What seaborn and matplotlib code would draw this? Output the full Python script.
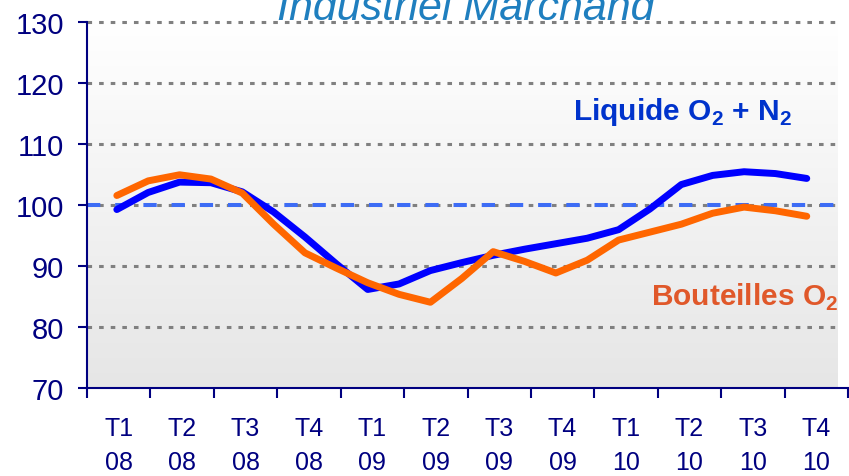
import numpy as np
import pandas as pd
import matplotlib
matplotlib.use("Agg")
import matplotlib.pyplot as plt
import seaborn as sns
from matplotlib.colors import LinearSegmentedColormap

# quarter labels (category axis)
trimestres = ["T1\n08", "T2\n08", "T3\n08", "T4\n08",
              "T1\n09", "T2\n09", "T3\n09", "T4\n09",
              "T1\n10", "T2\n10", "T3\n10", "T4\n10"]

# sampling of the curves, in quarter units (about two points per quarter)
temps = np.linspace(0.47, 11.35, 23)

liquide = [99.3, 102.1, 103.8, 103.7, 102.2, 98.9, 94.8, 90.4, 86.2, 87.1, 89.3, 90.6,
           91.8, 92.8, 93.7, 94.6, 96.0, 99.4, 103.4, 104.9, 105.5, 105.2, 104.4]
bouteilles = [101.6, 104.0, 105.0, 104.3, 102.0, 96.9, 92.2, 89.7, 87.3, 85.4, 84.1, 88.0,
              92.4, 90.8, 88.9, 91.0, 94.3, 95.6, 96.9, 98.7, 99.7, 99.1, 98.2]

y_ticks = [70, 80, 90, 100, 110, 120, 130]
reference = 100

NAVY = "#000080"

sns.set_style("white")
plt.rcParams["font.family"] = ["Liberation Sans", "DejaVu Sans"]
plt.rcParams["mathtext.fontset"] = "custom"
plt.rcParams["mathtext.rm"] = "Liberation Sans"
plt.rcParams["mathtext.bf"] = "Liberation Sans:bold"

df = pd.DataFrame({
    "t": np.concatenate([temps, temps]),
    "indice": liquide + bouteilles,
    "serie": ["liquide"] * len(liquide) + ["bouteilles"] * len(bouteilles),
})

fig = plt.figure(figsize=(8.49, 4.77), dpi=100)
ax = fig.add_axes([0.1025, 0.1839, 0.8963, 0.7673])

# grey gradient background (stops a bit before the right end, like the original)
grad = np.linspace(0, 1, 256).reshape(-1, 1)
cmap = LinearSegmentedColormap.from_list("bg", ["#e6e6e6", "#ffffff"])
ax.imshow(grad, extent=[0, 0.986, 0, 1], transform=ax.transAxes,
          aspect="auto", cmap=cmap, origin="lower", zorder=0)

for y in y_ticks[1:]:
    ax.axhline(y, xmax=0.986, color="#808080", lw=2.2, ls=(0, (1.5, 2.3)),
               zorder=1, clip_on=False)
ax.axhline(reference, xmax=0.986, color="#3d6cf5", lw=2.9, ls=(0, (3.3, 3.7)), zorder=2)

sns.lineplot(data=df, x="t", y="indice", hue="serie",
             hue_order=["liquide", "bouteilles"],
             palette={"liquide": "#0000ff", "bouteilles": "#ff6600"},
             lw=5, legend=False, ax=ax, zorder=3,
             solid_capstyle="round", solid_joinstyle="round")

ax.set_xlim(0, len(trimestres))
ax.set_ylim(y_ticks[0], y_ticks[-1])
ax.set_xlabel("")
ax.set_ylabel("")

for side in ["top", "right"]:
    ax.spines[side].set_visible(False)
for side in ["left", "bottom"]:
    ax.spines[side].set_color(NAVY)
    ax.spines[side].set_linewidth(1.5)

ax.set_yticks(y_ticks)
ax.tick_params(axis="y", direction="out", length=6.5, width=1.5, color=NAVY,
               labelcolor=NAVY, labelsize=21, pad=10, left=True)

ax.set_xticks(np.arange(len(trimestres)) + 0.5)
ax.set_xticklabels(trimestres, linespacing=1.53)
ax.set_xticks(np.arange(len(trimestres) + 1), minor=True)
ax.tick_params(axis="x", which="major", length=0, labelcolor=NAVY, labelsize=18, pad=20)
ax.tick_params(axis="x", which="minor", direction="out", length=7, width=1.5,
               color=NAVY, bottom=True)

fig.text(0.549, 1 - 20 / 477, "Industriel Marchand", ha="center", va="baseline",
         style="italic", fontsize=31, color="#1f7fbf")
fig.text(573 / 849, 1 - 120 / 477, r"Liquide O$_\mathbf{2}$ + N$_\mathbf{2}$",
         ha="left", va="baseline", fontsize=21.5, fontweight="bold", color="#0033cc")
fig.text(651 / 849, 1 - 306 / 477, r"Bouteilles O$_\mathbf{2}$",
         ha="left", va="baseline", fontsize=21.5, fontweight="bold", color="#e0582a")

fig.savefig("out.png", dpi=100)
